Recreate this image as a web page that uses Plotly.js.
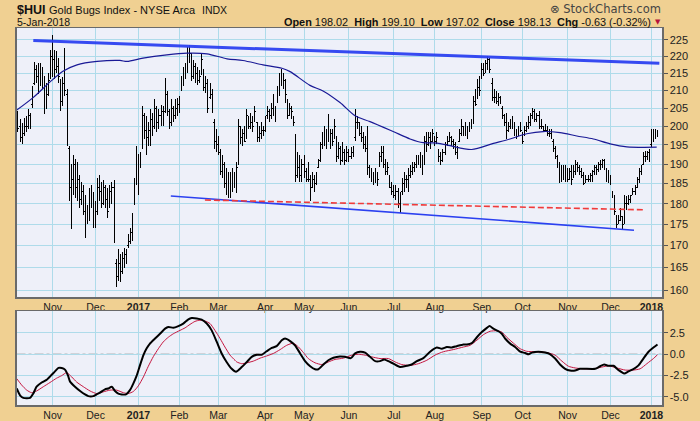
<!DOCTYPE html>
<html>
<head>
<meta charset="utf-8">
<script src="https://cdn.plot.ly/plotly-3.0.1.min.js"></script>
<style>html,body{margin:0;padding:0;background:#F0D092;}#chart{width:700px;height:421px;}
.ohlclayer path{shape-rendering:crispEdges;}</style>
</head>
<body>
<div id="chart"></div>
<script>
// ---------------- DATA ----------------
const firstDay = '2016-10-07';
const marketHolidays = ['2016-11-24','2016-12-26','2017-01-02','2017-01-16','2017-02-20','2017-04-14',
  '2017-05-29','2017-07-04','2017-09-04','2017-11-23','2017-12-25','2018-01-01'];

const opens = [
203,200,197,198,200,200,203,206,212,216,214,212,215,212,206,209,214,
220,219,216,217,213,207,213,209,194,184,186,190,184,186,181,183,178,175.5,177,182,181,
176,178,184,183,180,184,181,179.5,183,184,166,163,166,164,167,168,170,171,173,180,186,
191,190,195,203,199,197,199,202,200,205,201,203,204,204,209,204,201,205,203,205,
206,210,213,215,216,220,220,214,217,215,213,215,216,211,212,208,209,201,196,
195,193,188,190,185,184,183,184,186,185,191,200,197,198,197,202,200,201,202,201,197,198,199,
199,203,204,203,205,205,207,210,212,215,213,206,203,205,202,197,187,189,187,
190,188,186,186,184,186,185,189,191,195,197,199,196,199,198,197,196,192,194,191,193,191,
193,192,193,197,201,201,198,197,195,194,189,188,187,185.5,187,190,192,193,190,188,187,184,
183,182,183,180,183,185,186,186,187,188,189,190,191,191,190,190,196,195,197,196,
197,196,193,192,191,193,195,196,197,196,195,193,196,198,200,199,198,199,200,201,207,208,211,
214,216,216,218,219,212,208,208,207,208,205,203,201,199,200,200,200,198,198,199,
197,198,199,200,201,203,204,202,203,200,200,199,199,198,198,196,194,192,190,186,188,187,
188,186,188,186.5,188,190,189,188,187,185.5,186,186,187,188,189,188.5,190,190,191,188,186,
187,183,182,177,175.5,176,176.5,175.5,180,180,181,182.5,183,184,186,188,190,192,192,193,
195,198,197.5,198.02];

const highs = [
204.2,202,200.8,202.3,202.8,204.7,203.7,211.2,218.4,217.4,217.9,217.9,216.9,214.1,212.2,215.1,222,
226.5,222,221.5,219.4,213.2,214,222.5,210.4,194.8,190,192.3,191.4,190.6,187.2,185.5,184.7,182.2,179.7,183.8,184.7,
183,180.6,186.3,187.2,185.5,185.9,184.7,183.8,184.7,185.5,185.9,167,169.2,168,168.6,169.5,169.2,172.6,174.2,177.7,186.3,194.8,
192.7,193.1,205.6,203.7,202.8,201.1,204.7,203.7,207.5,205.6,204.7,206,205.6,213.5,209.8,204.7,207.5,205.6,207.5,
208,208.4,214.1,216.9,217.9,223,223.5,221,219,217.9,216.9,216.1,221,216.1,214.1,213.2,212.2,210.4,202,
199.3,197.5,194,192.3,190.6,188.9,188,188,188.9,188,190.6,202,200.2,199.3,200.2,204.7,202.8,203.7,202.8,205.6,201.1,200.2,201.1,
200.2,202.8,205.6,204.7,206.6,208.9,205.6,211.2,215.1,216.4,215.1,213.2,207.5,206.6,205.6,202.8,197.9,193.1,192.3,
191.4,192.3,188.9,190.6,187.2,188,187.2,188,191.4,195.7,198.4,200.2,199.3,203.3,199.3,199.3,202,197.5,195.7,194.8,195.7,194,
194.8,194,194.4,194.8,204.7,202.8,201.1,200.2,198.4,197.5,200.2,189.7,188.9,188,188.9,188,193.1,194.8,194.8,191.4,190.6,187.2,
185.5,184.7,184.7,183.8,183,186.3,188,187.2,188.9,189.7,190.6,190.6,192.3,192.3,193.1,192.3,197.5,198.4,198.4,198.4,
199.3,197.5,198.4,194,193.1,194,195.7,197.5,198.4,197.5,196.6,195.7,194.8,199.3,202,200.2,201.1,200.2,201.1,202,208.4,210.4,213.2,214.1,
217.9,217.9,219,220.2,219.4,213.5,210.4,209.8,209.4,208.4,205.6,203.3,203.7,201.1,202,202.8,201.1,199.3,200.2,201.1,
198.4,200.2,201.1,202.8,203.7,205.2,204.7,203.7,204.2,202,200.2,200.7,200.2,199.3,199.3,196.6,194.8,192.3,190.6,189.7,189.7,189.7,
188.9,188.9,189.7,189.7,191,190.6,189.7,188.9,188,187.2,187.2,187.6,188.4,189.7,189.7,190.6,191,191.4,191.4,188.9,188.4,
187.2,183,182.2,177.3,177.3,178.9,176.9,182.2,181.8,182.2,182.2,183.8,184.7,186.7,188.9,189.7,193.1,193.5,193.5,194,
199.3,199.3,199.2,199.10];

const lows = [
198.4,195.7,195.2,197.5,198.4,199.3,199.3,205.2,211.7,212.2,208.9,211.2,210.4,203.3,204.7,208.4,213.2,
214,213.2,215,212.2,204.2,205.6,208.4,194.8,180.6,174,182.2,181.4,180.6,178.9,179.7,177.3,171.8,175,175.8,178.9,
174.2,174.2,177.3,180.6,178.9,179.7,178.9,176.5,178.9,180,170.7,160.6,162.1,161.7,163.5,165,165.7,169.5,170.3,171.1,179.7,184.7,
182.2,188.9,194,196.6,192.3,194.8,194.8,197.5,199.3,198.4,199.3,200.2,200.2,203.7,202.8,199.3,200.2,201.1,202,
202.8,203.7,209.8,211.2,213.2,215.1,217.9,212.7,213.2,212.2,211.7,212.2,214.6,209.8,209.4,203.7,207.5,203.7,194,
193.1,192.3,187.2,186.3,183.8,182.2,181.4,181.4,183,183.8,182.6,189.7,195.2,194.8,195.7,196.6,199.3,199.3,198.4,201.1,195.7,195.7,196.6,
197.5,198.4,202,201.1,202,202.8,201.1,206.6,208.4,211.2,210.4,206.6,202,202.8,202,200.2,185.5,186.3,185.5,
185.5,186.3,185.5,185.5,180.6,183.8,183,184.7,188.9,190.6,194,194.8,194,195.7,194,194.8,196.6,190.6,191.4,189.7,190.6,189.7,
190.6,190.6,191.4,191.8,196,199.3,197.5,195.7,194,193.1,187.2,186.3,185.5,184.7,185.1,184.3,189.3,190.6,188.9,187.2,187.2,183.8,
182.2,181.4,181,178.9,177.7,182.2,183,183.8,183,186.3,187.2,188,188.9,189.7,188.9,187.2,189.7,193.1,194.8,194,
195.7,194.8,195.2,190.6,189.7,190.6,192.3,194.8,195.7,194.8,194,192.3,191.4,195.7,197.5,197.5,197.5,196.6,198.4,199.3,200.7,205.6,207.5,208.4,
213.2,214.1,215.1,216.1,215.1,207,206.6,206.1,205.6,206.1,202,200.2,196.6,198.4,199.3,199.3,197.5,196.6,197.5,198.4,
195.2,197.5,198.4,199.3,200.2,202,201.1,201.1,199.3,199.3,198.8,198.4,197.5,197,196.6,193.1,191.4,188.9,185.1,185.5,185.9,185.5,
185.5,185.9,184.7,186.3,187.2,188,187.2,186.3,184.7,185.1,185.5,185.5,185.5,187.2,187.2,188,188.4,188.9,188.4,185.5,185.1,
184.7,181.4,177.3,174.2,175,175.8,173.8,175,178.5,179.7,180.1,182.2,182.2,183.8,185.1,187.2,189.7,190.6,191,190.6,
194.4,195.7,196.6,197.02];

const closes = [
199.5,197,196.5,200,199.5,203,201,210,216,214,210,215,212,205,209,213,220,
219,216,217,214,207,212,210,196,183,186,190,184,186,181,183,178,175,177,182,181,
176,178,184,183,180,184,181,178,183,184,171,163,166,164,167,168,168.5,171,173,176,185,192,
190,192,203,199,197,199,202,200,205,201,203,204,202,211,204,201,206,203,205,
206,205,213,215,216,220,221,214,217,215,213,214,219,211,212,205,209,205,196,
195,193,188,190,185,184,183,182,186,185,189,200,197,198,196,203,200,201,200,204,197,199,198,
199,201,204,203,205,207,203,210,212,215,213,209,203,205,204,201,187,189,187,
190,188,186,189,182,186,185,187,190,195,197,199,196,200,198,196,200,192,194,191,193,191,
193,192,193,193.5,201,201,198,197,195,194,189,188,187,185,187,186,192,193,190,188,189,184,
183,182,183,180,181,185,186,186,187,188,189,189,191,191,190,188,196,195,197,196,
198,196,197,192,191,193,194,196,197,196,195,193,192,198,200,199,198,199,200,201,207,206,211,210,
216,215,218,219,216,208,208,207,208,207,203,201,198,200,200,201,198,197,199,199,
196,199,200,201,203,204,202,203,200,201,199,200,198,198,197,194,192,190,186,188,187,188,
186,188,186,188,190,189,188,187,185,186,186,187,188,189,188,190,190,191,189,186,187,
185,182,178,175,176,177,175,180,180,181,182,183,184,186,188,189,192,192,193,193,
198,197,198.76,198.13];

// 200-day moving average, read at points along the line (bar number, value)
const maBar = [-0.6,7.4,15.7,22,28.9,38.7,49.9,53.4,61.2,72.9,82.7,92.5,102.3,110.1,119.9,129.2,133.2,142.9,149.3,
  157.6,165,172.3,183.6,191.9,198.3,205.1,211.5,222,232.7,240.8,249,257.1,265.3,273.5,281.6,289.8,298,312.6];
const maVal = [204.5,208,212.5,215.6,217.5,218.5,218.8,218.5,219.5,220.5,221,220.8,219.3,218.8,217.5,216.5,215.5,211.5,209.9,
  206.6,202.9,201.3,198.6,196.6,195.6,195.5,194.8,193.8,195.4,196.6,198,198.6,198.3,197.4,196.6,195.3,194.5,194.4];

// MACD line (black)
const macdBar = [-0.6,1.0,2.6,5.9,7.5,9.1,11.6,14.0,16.5,18.1,19.8,21.4,23.0,24.5,25.5,27.9,30.4,32.8,34.4,36.9,38.5,40.1,
  42.6,44.2,45.9,47.5,49.1,50.8,52.9,54.8,56.5,58.1,59.7,61.4,63.0,64.6,67.1,69.5,72.0,73.6,76.0,78.5,80.9,83.4,85.0,
  87.5,89.9,92.4,94.8,97.3,99.7,102.1,104.6,106.7,109.5,112.0,114.4,116.9,119.3,121.7,124.2,126.6,129.1,130.7,133.2,
  135.6,138.1,140.5,143.0,145.4,147.0,149.5,151.9,154.4,157.6,160.1,162.9,165.0,167.4,169.9,172.3,174.8,177.2,179.2,
  181.3,183.7,187.0,190.3,192.7,195.2,198.4,201.7,205.0,207.4,209.9,212.3,214.7,218.0,219.7,222.1,224.6,227.0,229.5,
  230.8,232.7,235.2,236.8,238.4,240.9,243.3,245.8,248.2,249.9,251.5,254.7,258.0,260.5,262.9,265.3,267.8,270.2,272.7,
  275.1,282.5,284.9,286.9,289.0,291.5,293.9,296.7,298.8,301.2,303.7,306.1,308.6,311.0,313.0];
const macdVal = [-4.0,-4.8,-5.1,-5.1,-4.6,-3.8,-3.3,-3.0,-2.4,-2.0,-1.6,-1.6,-1.8,-2.5,-3.2,-3.8,-4.3,-4.7,-4.9,-4.9,-4.7,-4.5,
  -4.1,-4.0,-3.8,-4.3,-4.6,-4.7,-4.7,-4.2,-3.4,-2.5,-1.3,-0.1,0.7,1.25,1.85,2.4,3.0,3.2,3.1,3.3,3.6,4.1,4.25,
  4.2,4.05,3.6,2.8,1.45,0.1,-0.9,-1.7,-2.05,-1.5,-0.9,-0.3,-0.05,-0.05,0.35,0.75,0.95,1.65,1.85,1.55,
  1.05,0.1,-0.8,-1.4,-1.75,-1.75,-1.2,-0.7,-0.4,-0.25,-0.3,-0.45,0.1,0.3,0.2,-0.3,-0.8,-0.8,-0.6,
  -0.8,-1.1,-1.5,-1.35,-1.2,-0.8,-0.45,0.3,0.8,0.65,0.85,0.8,0.95,1.15,1.15,1.3,2.0,2.6,3.1,
  3.3,3.0,2.7,2.4,1.85,1.25,0.85,0.3,0.15,0.0,0.2,0.3,0.2,0.0,-0.5,-1.2,-1.7,-1.9,-1.9,
  -1.7,-1.7,-1.4,-1.2,-1.35,-1.35,-1.85,-2.25,-2.0,-1.75,-1.3,-0.5,0.3,0.8,1.15];

// Signal line (red)
const sigBar = [-0.6,1.8,4.3,6.7,9.1,12.4,15.7,18.9,21.4,23.8,26.3,28.7,32.0,35.3,38.5,41.8,45.0,48.3,51.6,54.0,56.5,58.9,
  61.4,63.8,66.3,68.7,71.1,73.6,76.0,79.3,81.8,84.2,86.6,89.1,91.5,94.0,96.4,98.9,101.3,103.8,106.2,107.1,109.5,112.0,
  115.2,118.5,121.7,125.0,128.3,131.5,134.8,137.3,139.7,142.1,145.4,148.7,151.9,155.2,159.3,163.4,166.6,169.9,173.1,
  177.2,181.3,184.6,187.8,191.9,196.0,200.1,204.1,208.2,213.1,218.0,221.3,224.6,227.8,231.1,234.3,236.8,239.2,242.5,
  245.8,249.0,253.9,258.8,262.9,266.2,269.4,272.7,276.8,281.7,285.7,289.0,293.1,297.2,301.2,304.5,307.8,311.0,313.0];
const sigVal = [-2.85,-3.6,-4.2,-4.5,-4.3,-3.8,-3.3,-2.8,-2.5,-2.15,-2.65,-3.25,-3.8,-4.3,-4.6,-4.4,-4.2,-4.2,-4.5,-4.6,-4.35,-3.7,
  -2.65,-1.4,-0.25,0.65,1.45,2.0,2.4,2.8,3.1,3.5,3.85,4.0,3.9,3.6,2.8,1.85,0.85,-0.1,-0.7,-0.9,-1.1,-1.0,
  -0.8,-0.45,-0.2,0.1,0.55,1.05,1.3,0.85,0.2,-0.5,-1.0,-1.2,-0.9,-0.6,-0.45,-0.1,0.0,-0.1,-0.3,
  -0.5,-0.5,-0.9,-1.2,-1.3,-1.1,-0.7,-0.1,0.3,0.55,0.85,1.05,1.65,2.3,2.7,2.75,2.6,2.0,1.3,
  0.65,0.35,0.3,0.2,-0.1,-0.8,-1.4,-1.6,-1.7,-1.7,-1.5,-1.35,-1.6,-1.85,-1.85,-1.7,-1.1,-0.5,-0.05];

// hand-drawn trend lines: [bar, price] at each end
const upperTrend = [[7.5,224.8],[313.9,218.0]];
const lowerTrend = [[74.8,181.9],[301.5,173.6]];
const redTrend   = [[91.5,180.9],[306.1,178.5]];

const priceTicks = [160,165,170,175,180,185,190,195,200,205,210,215,220,225];
const macdTicks = [-5,-2.5,0,2.5];
const macdTickText = ['-5.0','-2.5','0.0','2.5'];
const monthNames = ['Jan','Feb','Mar','Apr','May','Jun','Jul','Aug','Sep','Oct','Nov','Dec'];

// ---------------- BUILD ----------------
function tradingDays(start, n){
  const out=[]; const d=new Date(start+'T00:00:00Z');
  while(out.length<n){
    const dow=d.getUTCDay(); const s=d.toISOString().slice(0,10);
    if(dow!==0 && dow!==6 && marketHolidays.indexOf(s)<0) out.push(s);
    d.setUTCDate(d.getUTCDate()+1);
  }
  return out;
}
const dates = tradingDays(firstDay, closes.length);
const bars = dates.map((_,k)=>k);
const tickvals=[], ticktext=[];
for(let k=1;k<dates.length;k++){
  if(dates[k].slice(5,7)!==dates[k-1].slice(5,7)){
    const m=parseInt(dates[k].slice(5,7),10);
    tickvals.push(k);
    ticktext.push(m===1 ? '<b>'+dates[k].slice(0,4)+'</b>' : monthNames[m-1]);
  }
}

const FONT = 'Liberation Sans, Arial, Helvetica, sans-serif';
const W=700,H=421;
const px = v=>v/W, py = v=>1-v/H;
const xRange=[-0.72,315.2];
const grid='#AEDBEA';

const traces = [
  {type:'ohlc', x:bars, open:opens, high:highs, low:lows, close:closes, xaxis:'x', yaxis:'y',
   increasing:{line:{color:'#000',width:1}}, decreasing:{line:{color:'#000',width:1}}, tickwidth:0.45, hoverinfo:'skip'},
  {type:'scatter', mode:'lines', x:maBar, y:maVal, xaxis:'x', yaxis:'y', line:{color:'#1A1A96',width:1.2,shape:'spline',smoothing:0.8}, hoverinfo:'skip'},
  {type:'scatter', mode:'lines', x:upperTrend.map(p=>p[0]), y:upperTrend.map(p=>p[1]), xaxis:'x', yaxis:'y', line:{color:'#2B40F0',width:3}, opacity:0.95, hoverinfo:'skip'},
  {type:'scatter', mode:'lines', x:lowerTrend.map(p=>p[0]), y:lowerTrend.map(p=>p[1]), xaxis:'x', yaxis:'y', line:{color:'#2B40F0',width:1.6}, hoverinfo:'skip'},
  {type:'scatter', mode:'lines', x:redTrend.map(p=>p[0]), y:redTrend.map(p=>p[1]), xaxis:'x', yaxis:'y', line:{color:'#F03A3A',width:1.6,dash:'6px,3px'}, hoverinfo:'skip'},
  {type:'scatter', mode:'lines', x:sigBar, y:sigVal, xaxis:'x2', yaxis:'y2', line:{color:'#C4163F',width:1,shape:'spline',smoothing:0.6}, hoverinfo:'skip'},
  {type:'scatter', mode:'lines', x:macdBar, y:macdVal, xaxis:'x2', yaxis:'y2', line:{color:'#000',width:2,shape:'spline',smoothing:0.6}, hoverinfo:'skip'}
];

const xCommon = {domain:[px(16.5),px(662)], range:xRange, tickvals:tickvals, ticktext:ticktext, showgrid:true, gridcolor:grid, gridwidth:1,
  ticks:'', showline:true, linecolor:'#6a6a6a', linewidth:1.5, mirror:true, zeroline:false,
  tickfont:{family:FONT,size:10.5,color:'#222'}, fixedrange:true};

const layout = {
  width:W, height:H, margin:{l:0,r:0,t:0,b:0}, paper_bgcolor:'#F0D092', plot_bgcolor:'#EEF0F9', showlegend:false,
  font:{family:FONT,color:'#222'},
  xaxis: Object.assign({}, xCommon, {anchor:'y', rangeslider:{visible:false}}),
  yaxis: {domain:[py(297),py(28)], type:'log', range:[Math.log10(158.5),Math.log10(228.7)], side:'right', anchor:'x',
    tickvals:priceTicks, ticktext:priceTicks.map(String), showgrid:true, gridcolor:grid, gridwidth:1, ticks:'outside', ticklen:4, tickcolor:'#555',
    showline:true, linecolor:'#6a6a6a', linewidth:1.5, mirror:true, zeroline:false, tickfont:{family:FONT,size:11,color:'#222'}, fixedrange:true},
  xaxis2: Object.assign({}, xCommon, {anchor:'y2'}),
  yaxis2: {domain:[py(405),py(311)], range:[-5.94,5.07], side:'right', anchor:'x2', tickvals:macdTicks, ticktext:macdTickText,
    showgrid:true, gridcolor:grid, gridwidth:1, ticks:'outside', ticklen:4, tickcolor:'#555', showline:true, linecolor:'#6a6a6a', linewidth:1.5,
    mirror:true, zeroline:false, tickfont:{family:FONT,size:11,color:'#222'}, fixedrange:true},
  shapes:[
    {type:'line', xref:'x2', yref:'y2', x0:xRange[0], x1:xRange[1], y0:0, y1:0, line:{color:'#777',width:1.2,dash:'dashdot'}, layer:'below'}
  ],
  annotations:[
    {xref:'paper',yref:'paper',x:px(15),y:py(10),xanchor:'left',yanchor:'middle',showarrow:false,text:'<b>$HUI</b>',font:{family:FONT,size:12.5,color:'#111'}},
    {xref:'paper',yref:'paper',x:px(47),y:py(10),xanchor:'left',yanchor:'middle',showarrow:false,text:'Gold Bugs Index - NYSE Arca',font:{family:FONT,size:11,color:'#111'}},
    {xref:'paper',yref:'paper',x:px(200),y:py(10),xanchor:'left',yanchor:'middle',showarrow:false,text:'INDX',font:{family:FONT,size:10.5,color:'#111'}},
    {xref:'paper',yref:'paper',x:px(15),y:py(22.5),xanchor:'left',yanchor:'middle',showarrow:false,text:'5-Jan-2018',font:{family:FONT,size:10.5,color:'#111'}},
    {xref:'paper',yref:'paper',x:px(653),y:py(22.5),xanchor:'right',yanchor:'middle',showarrow:false,
     text:'<b>Open</b> 198.02  <b>High</b> 199.10  <b>Low</b> 197.02  <b>Close</b> 198.13  <b>Chg</b> -0.63 (-0.32%)',font:{family:FONT,size:10.9,color:'#111'}},
    {xref:'paper',yref:'paper',x:px(663),y:py(22),xanchor:'right',yanchor:'middle',showarrow:false,text:'▼',font:{family:'DejaVu Sans',size:7,color:'#B5123C'}},
    {xref:'paper',yref:'paper',x:px(663),y:py(9.5),xanchor:'right',yanchor:'middle',showarrow:false,text:'⊗ StockCharts.com',font:{family:'DejaVu Sans, '+FONT,size:11.5,color:'#444'}}
  ]
};

Plotly.newPlot('chart', traces, layout, {staticPlot:true, displayModeBar:false});
</script>
</body>
</html>
